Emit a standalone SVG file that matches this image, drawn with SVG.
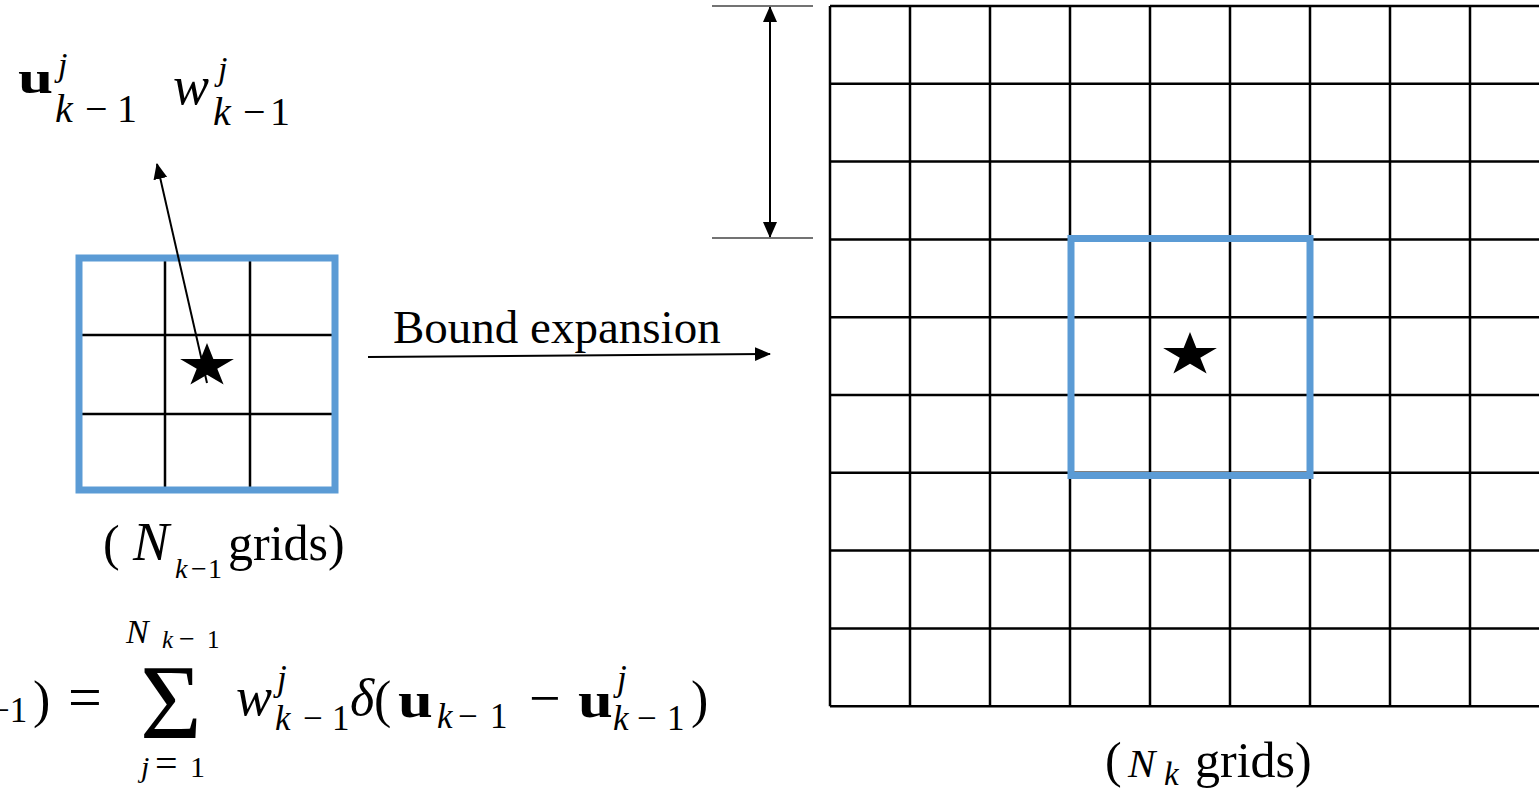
<svg xmlns="http://www.w3.org/2000/svg" width="1539" height="791" viewBox="0 0 1539 791">
<style>
.g{stroke:#000;stroke-width:2.5;fill:none}
.blue{stroke:#5B9BD5;stroke-width:7;fill:none}
.t{font-family:"Liberation Serif","Times New Roman",serif;fill:#000}
.i{font-style:italic}
.b{font-weight:bold}
.tick{stroke:#444;stroke-width:1.5}
.ar{stroke:#000;stroke-width:2;fill:none}
</style>
<defs>
<marker id="ah" markerUnits="userSpaceOnUse" markerWidth="16" markerHeight="16" viewBox="0 0 16 16" refX="15" refY="8" orient="auto-start-reverse">
<path d="M0,1 L16,8 L0,15 z" fill="#000"/>
</marker>
<path id="star" d="M0,-23 L6.36,-7.11 L26.9,-7.11 L10.28,2.72 L16.6,18.6 L0,8.79 L-16.6,18.6 L-10.28,2.72 L-26.9,-7.11 L-6.36,-7.11 Z" fill="#000"/>
</defs>
<rect width="1539" height="791" fill="#fff"/>

<g id="big-grid">
<path class="g" d="M830,6 H1539 M830,83.8 H1539 M830,161.6 H1539 M830,239.4 H1539 M830,317.2 H1539 M830,395 H1539 M830,472.8 H1539 M830,550.6 H1539 M830,628.4 H1539 M830,706.2 H1539 M830,6 V706.2 M910,6 V706.2 M990,6 V706.2 M1070,6 V706.2 M1150,6 V706.2 M1230,6 V706.2 M1310,6 V706.2 M1390,6 V706.2 M1470,6 V706.2"/>
<rect class="blue" x="1071" y="238.5" width="239" height="237"/>
<use href="#star" x="1190" y="355"/>
</g>

<g id="small-grid">
<path class="g" d="M165,258 V490 M250,258 V490 M79,335 H335 M79,414 H335"/>
<rect class="blue" x="79" y="258" width="256" height="232" stroke-width="7.5"/>
<use href="#star" x="207" y="366"/>
</g>

<g id="connectors">
<line class="ar" x1="207" y1="383" x2="157" y2="164" marker-end="url(#ah)"/>
<line class="ar" x1="368" y1="357" x2="770" y2="354" marker-end="url(#ah)"/>
<line class="ar" x1="770" y1="7" x2="770" y2="237" marker-start="url(#ah)" marker-end="url(#ah)"/>
<line class="tick" x1="712" y1="6" x2="813" y2="6"/>
<line class="tick" x1="712" y1="238" x2="813" y2="238"/>
</g>

<g id="label-bound">
<text class="t" x="393" y="343" font-size="47">Bound expansion</text>
</g>

<g id="label-top-math">
<text class="t b" transform="translate(18,93) scale(1.37,1)" font-size="46">u</text>
<text class="t"><tspan class="i" x="58" y="76" font-size="34">j</tspan><tspan class="i" x="55" y="122" font-size="40">k</tspan><tspan x="85" y="122" font-size="40">−</tspan><tspan x="117" y="122" font-size="40">1</tspan></text>
<text class="t"><tspan class="i" x="173" y="104" font-size="54">w</tspan><tspan class="i" x="218" y="80" font-size="34">j</tspan><tspan class="i" x="213" y="125" font-size="40">k</tspan><tspan x="243" y="125" font-size="40">−</tspan><tspan x="270" y="125" font-size="40">1</tspan></text>
</g>

<g id="label-small-grids">
<text class="t"><tspan x="103" y="560" font-size="50">(</tspan><tspan class="i" x="133" y="560" font-size="54">N</tspan><tspan class="i" x="175" y="578" font-size="28">k</tspan><tspan x="191" y="578" font-size="28">−</tspan><tspan x="208" y="578" font-size="28">1</tspan><tspan x="228" y="560" font-size="50">grids)</tspan></text>
</g>

<g id="label-big-grids">
<text class="t"><tspan x="1105" y="777" font-size="50">(</tspan><tspan class="i" x="1128" y="777" font-size="41">N</tspan><tspan class="i" x="1164" y="785" font-size="33">k</tspan><tspan x="1195" y="777" font-size="50">grids)</tspan></text>
</g>

<g id="formula">
<text class="t"><tspan x="-10" y="722" font-size="35">−1</tspan><tspan x="33" y="717" font-size="52">)</tspan><tspan x="68" y="717" font-size="60">=</tspan></text>
<text class="t" x="140" y="738" font-size="106">Σ</text>
<text class="t"><tspan class="i" x="126" y="643" font-size="34">N</tspan><tspan class="i" x="162" y="648" font-size="25">k</tspan><tspan x="179" y="648" font-size="28">−</tspan><tspan x="207" y="648" font-size="25">1</tspan></text>
<text class="t"><tspan class="i" x="141" y="777" font-size="30">j</tspan><tspan x="155" y="777" font-size="40">=</tspan><tspan x="190" y="777" font-size="30">1</tspan></text>
<text class="t"><tspan class="i" x="236" y="715" font-size="54">w</tspan><tspan class="i" x="277" y="690" font-size="35">j</tspan><tspan class="i" x="275" y="730" font-size="35">k</tspan><tspan x="303" y="730" font-size="35">−</tspan><tspan x="332" y="730" font-size="35">1</tspan><tspan class="i" x="350" y="715" font-size="52">δ</tspan><tspan x="374" y="717" font-size="52">(</tspan></text>
<text class="t b" transform="translate(398,717) scale(1.25,1)" font-size="50">u</text>
<text class="t"><tspan class="i" x="437" y="728" font-size="35">k</tspan><tspan x="458" y="728" font-size="35">−</tspan><tspan x="490" y="728" font-size="35">1</tspan><tspan x="529" y="717" font-size="56">−</tspan></text>
<text class="t b" transform="translate(578,717) scale(1.25,1)" font-size="50">u</text>
<text class="t"><tspan class="i" x="617" y="690" font-size="35">j</tspan><tspan class="i" x="613" y="730" font-size="35">k</tspan><tspan x="637" y="730" font-size="35">−</tspan><tspan x="667" y="730" font-size="35">1</tspan><tspan x="691" y="717" font-size="52">)</tspan></text>
</g>
</svg>
